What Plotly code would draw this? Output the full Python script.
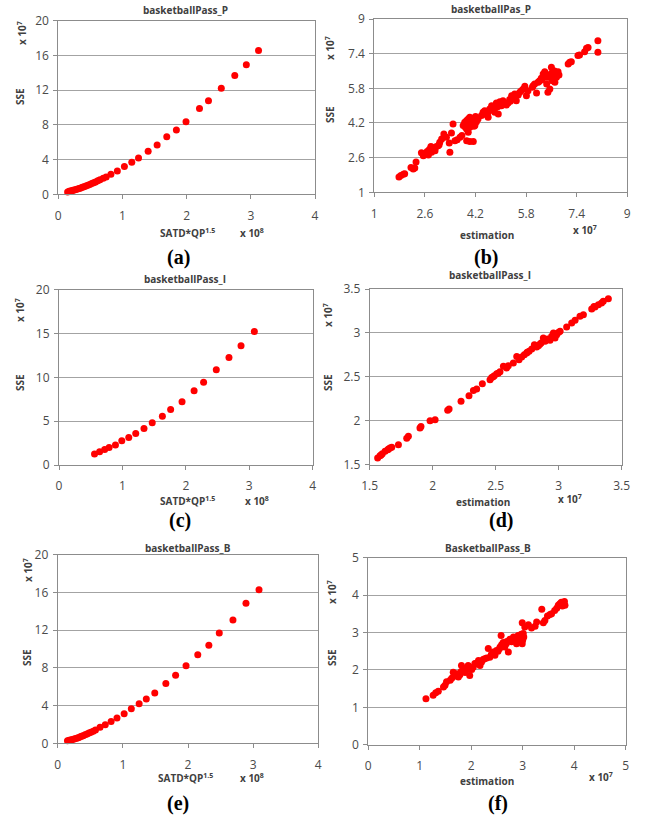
import plotly.graph_objects as go

W, H = 649, 818

# ---------------- data (x in units of the axis multiplier, y in 1e7) ----------------
a_x = [0.145, 0.17, 0.19, 0.21, 0.23, 0.25, 0.275, 0.30, 0.325, 0.35, 0.375, 0.40, 0.43, 0.46, 0.49,
       0.52, 0.55, 0.58, 0.615, 0.65, 0.70, 0.746, 0.82, 0.92, 1.03, 1.145, 1.25, 1.40, 1.54, 1.69,
       1.84, 1.99, 2.20, 2.34, 2.54, 2.75, 2.93, 3.12]
a_y = [0.27, 0.35, 0.38, 0.42, 0.46, 0.50, 0.56, 0.62, 0.67, 0.73, 0.80, 0.88, 0.96, 1.04, 1.13,
       1.23, 1.32, 1.42, 1.55, 1.69, 1.85, 2.0, 2.31, 2.69, 3.19, 3.69, 4.19, 4.96, 5.69, 6.62,
       7.42, 8.35, 9.88, 10.77, 12.23, 13.69, 14.92, 16.58]

b_x = [1.78, 1.84, 1.92, 1.96, 2.16, 2.23, 2.28, 2.32, 2.49, 2.55, 2.60, 2.67, 2.74, 2.79, 2.84, 2.92,
       2.81, 2.71, 3.02, 3.07, 3.13, 3.20, 3.28, 3.37, 3.39, 3.44, 3.49, 3.55, 3.62, 3.71, 3.77, 3.81,
       3.86, 3.92, 3.97, 4.02, 3.92, 3.97, 4.02, 4.07, 4.13, 4.18, 4.02, 4.13, 3.92, 4.23, 4.28, 4.39,
       4.44, 4.49, 4.55, 4.60, 4.65, 4.71, 4.76, 4.81, 4.86, 4.92, 4.97, 5.02, 5.07, 5.18, 5.23, 5.28,
       5.34, 5.39, 5.44, 5.49, 5.55, 5.60, 5.65, 5.71, 5.76, 5.81, 5.86, 6.02, 6.07, 6.13, 6.18, 6.23,
       6.28, 6.34, 6.39, 6.44, 6.49, 6.55, 6.60, 6.63, 6.65, 6.71, 6.76, 6.81, 6.84, 7.13, 7.18, 7.23,
       7.44, 7.49, 7.65, 7.71, 7.76, 8.07, 8.07,
       3.95, 4.05, 4.00, 3.88, 4.10, 4.15, 3.85, 4.20, 2.65, 2.90, 2.95, 3.05,
       6.30, 6.50, 6.60, 6.70, 6.20, 6.00, 6.45, 6.55, 4.60, 4.70, 4.90, 5.10, 5.30, 4.50]
b_y = [1.71, 1.77, 1.83, 1.86, 2.14, 2.08, 2.12, 2.40, 2.82, 2.69, 2.78, 2.88, 2.97, 3.12, 3.03, 2.92,
       2.85, 2.72, 3.15, 3.31, 3.46, 3.69, 3.54, 3.28, 2.85, 3.74, 4.15, 3.38, 3.43, 3.54, 3.62, 4.08,
       4.23, 4.31, 4.38, 4.46, 3.92, 3.77, 4.00, 4.15, 4.23, 4.08, 3.34, 3.34, 3.38, 4.26, 4.38, 4.54,
       4.69, 4.77, 4.62, 4.46, 4.85, 5.00, 4.88, 4.69, 5.12, 4.62, 5.18, 5.00, 5.23, 5.03, 5.12, 5.28,
       5.46, 5.34, 5.54, 5.23, 5.49, 5.62, 5.69, 5.77, 5.89, 5.46, 5.69, 5.92, 6.00, 5.58, 6.08, 6.15,
       6.26, 6.46, 6.57, 6.31, 5.62, 5.77, 6.77, 6.15, 6.38, 6.08, 6.31, 6.57, 6.42, 6.92, 7.00, 7.03,
       7.31, 7.34, 7.49, 7.65, 7.69, 8.00, 7.46,
       4.10, 4.30, 4.20, 4.00, 4.40, 4.05, 4.15, 4.50, 2.75, 3.00, 3.10, 3.20,
       6.20, 6.40, 6.50, 6.60, 6.10, 5.85, 6.00, 6.30, 4.70, 4.80, 4.95, 5.10, 5.20, 4.60]

c_x = [0.56, 0.64, 0.72, 0.79, 0.89, 0.99, 1.10, 1.21, 1.34, 1.47, 1.63, 1.76, 1.94, 2.13, 2.28,
       2.48, 2.68, 2.87, 3.08]
c_y = [1.25, 1.52, 1.78, 2.00, 2.27, 2.77, 3.14, 3.60, 4.17, 4.81, 5.57, 6.33, 7.23, 8.48, 9.43,
       10.87, 12.27, 13.60, 15.23]

d_x = [1.563, 1.582, 1.600, 1.622, 1.643, 1.661, 1.675, 1.728, 1.794, 1.807, 1.899, 1.907, 1.979,
       2.019, 2.119, 2.130, 2.225, 2.288, 2.323, 2.349, 2.394, 2.455, 2.468, 2.489, 2.508, 2.534,
       2.561, 2.587, 2.600, 2.640, 2.667, 2.685, 2.706, 2.727, 2.746, 2.765, 2.786, 2.807, 2.825,
       2.839, 2.860, 2.878, 2.892, 2.913, 2.931, 2.944, 2.958, 2.971, 2.984, 3.000, 3.011, 3.063,
       3.103, 3.130, 3.169, 3.196, 3.262, 3.288, 3.315, 3.354, 3.394,
       2.48, 2.52, 2.75, 2.85, 2.90, 2.97, 3.28, 3.34, 1.59, 1.65]
d_y = [1.576, 1.602, 1.625, 1.652, 1.671, 1.690, 1.700, 1.728, 1.800, 1.823, 1.917, 1.936, 2.000,
       2.012, 2.119, 2.134, 2.221, 2.286, 2.346, 2.361, 2.422, 2.468, 2.494, 2.513, 2.536, 2.559,
       2.620, 2.600, 2.627, 2.657, 2.733, 2.695, 2.726, 2.752, 2.771, 2.790, 2.817, 2.866, 2.840,
       2.855, 2.885, 2.942, 2.904, 2.931, 2.916, 2.961, 2.999, 2.942, 2.980, 3.007, 3.018, 3.067,
       3.113, 3.143, 3.189, 3.208, 3.272, 3.295, 3.322, 3.360, 3.390,
       2.50, 2.54, 2.78, 2.87, 2.92, 2.99, 3.30, 3.34, 1.61, 1.68]

e_x = [0.15, 0.17, 0.19, 0.215, 0.24, 0.265, 0.29, 0.315, 0.34, 0.365, 0.39, 0.42, 0.45, 0.48, 0.51,
       0.545, 0.58, 0.65, 0.73, 0.82, 0.91, 1.02, 1.13, 1.25, 1.36, 1.49, 1.66, 1.81, 1.97, 2.15,
       2.32, 2.48, 2.69, 2.89, 3.09]
e_y = [0.28, 0.31, 0.35, 0.38, 0.42, 0.47, 0.53, 0.60, 0.67, 0.74, 0.81, 0.90, 0.99, 1.08, 1.17,
       1.29, 1.41, 1.70, 1.98, 2.30, 2.69, 3.14, 3.67, 4.20, 4.70, 5.34, 6.33, 7.21, 8.23, 9.40,
       10.39, 11.70, 13.07, 14.84, 16.29]

f_x = [1.12, 1.26, 1.31, 1.36, 1.46, 1.49, 1.52, 1.59, 1.62, 1.65, 1.68, 1.71, 1.75, 1.78, 1.81,
       1.84, 1.88, 1.91, 1.94, 1.97, 2.01, 2.04, 2.07, 2.14, 2.17, 2.20, 2.23, 2.30, 2.33, 2.36,
       2.39, 2.43, 2.46, 2.49, 2.52, 2.56, 2.58, 2.59, 2.62, 2.65, 2.69, 2.72, 2.75, 2.78, 2.82,
       2.85, 2.88, 2.91, 2.95, 2.98, 2.99, 3.01, 2.99, 3.04, 3.11, 3.17, 3.24, 3.27, 3.37, 3.40,
       3.43, 3.48, 3.53, 3.56, 3.62, 3.66, 3.69, 3.72, 3.75, 3.79, 3.81, 3.82, 3.77,
       1.72, 1.80, 1.86, 1.95, 2.10, 2.26, 2.42, 2.55, 2.68, 2.80, 2.92, 2.97, 3.00, 3.02, 3.75, 3.80]
f_y = [1.23, 1.32, 1.39, 1.43, 1.54, 1.59, 1.68, 1.72, 1.78, 1.94, 1.84, 1.90, 1.81, 1.87, 2.12,
       1.99, 1.93, 2.05, 2.12, 1.85, 2.01, 2.08, 2.17, 2.25, 2.12, 2.21, 2.28, 2.32, 2.57, 2.34,
       2.41, 2.48, 2.39, 2.52, 2.50, 2.61, 2.92, 2.67, 2.73, 2.61, 2.76, 2.48, 2.82, 2.75, 2.88,
       2.82, 2.70, 2.92, 2.79, 2.85, 2.70, 2.97, 3.26, 3.15, 3.21, 3.12, 3.17, 3.28, 3.62, 3.26,
       3.32, 3.44, 3.48, 3.50, 3.59, 3.65, 3.73, 3.77, 3.81, 3.80, 3.83, 3.73, 3.71,
       1.86, 1.95, 1.96, 2.02, 2.17, 2.30, 2.43, 2.57, 2.70, 2.80, 2.88, 2.95, 2.80, 2.88, 3.78, 3.76]

# ---------------- panel setup ----------------
panels = [
    # key, x, y, box(l, r, t, b) px, xrange, xtickvals, yrange, ytickvals
    ("a", a_x, a_y, (58.3, 315, 20.7, 194.3), [0, 4], [0, 1, 2, 3, 4], [0, 20], [0, 4, 8, 12, 16, 20]),
    ("b", b_x, b_y, (374.3, 627.3, 19, 192.3), [1, 9], [1, 2.6, 4.2, 5.8, 7.4, 9], [1, 9], [1, 2.6, 4.2, 5.8, 7.4, 9]),
    ("c", c_x, c_y, (59, 312.7, 289.7, 465), [0, 4], [0, 1, 2, 3, 4], [0, 20], [0, 5, 10, 15, 20]),
    ("d", d_x, d_y, (369.7, 621.7, 289, 464.7), [1.5, 3.5], [1.5, 2, 2.5, 3, 3.5], [1.5, 3.5], [1.5, 2, 2.5, 3, 3.5]),
    ("e", e_x, e_y, (57.7, 318.3, 554.7, 743.3), [0, 4], [0, 1, 2, 3, 4], [0, 20], [0, 4, 8, 12, 16, 20]),
    ("f", f_x, f_y, (368.3, 625.7, 557.7, 744.7), [0, 5], [0, 1, 2, 3, 4, 5], [0, 5], [0, 1, 2, 3, 4, 5]),
]

LINE = "#8c8c8c"
GRID = "#a3a3a3"
TICKFONT = dict(family="Open Sans", size=12, color="#4a4a4a")

fig = go.Figure()
layout = {}
for i, (key, xs, ys, box, xr, xt, yr, yt) in enumerate(panels):
    n = "" if i == 0 else str(i + 1)
    l, r, t, b = box
    fig.add_trace(go.Scatter(
        x=xs, y=ys, mode="markers", xaxis="x" + n, yaxis="y" + n,
        marker=dict(color="#ff0000", size=7, line=dict(width=0)),
        cliponaxis=False, hoverinfo="skip",
    ))
    layout["xaxis" + n] = dict(
        domain=[l / W, r / W], range=xr, tickvals=xt, anchor="y" + n,
        showline=True, linecolor=LINE, linewidth=1, mirror=True, automargin=False,
        ticks="outside", ticklen=4, tickcolor=LINE, showgrid=False, zeroline=False,
        tickfont=TICKFONT, ticklabelstandoff=6,
    )
    layout["yaxis" + n] = dict(
        domain=[1 - b / H, 1 - t / H], range=yr, tickvals=yt, anchor="x" + n,
        showline=True, linecolor=LINE, linewidth=1, mirror=True, automargin=False,
        ticks="outside", ticklen=4, tickcolor=LINE, showgrid=True, gridcolor=GRID,
        gridwidth=1, zeroline=False, tickfont=TICKFONT, ticklabelstandoff=2,
    )

fig.update_layout(**layout)


def P(px, py):
    return px / W, 1 - py / H


ann = []


def text(px, py, s, size=10, angle=0, family="Open Sans", color="#404040"):
    x, y = P(px, py)
    ann.append(dict(x=x, y=y, xref="paper", yref="paper", text=s, showarrow=False,
                    textangle=angle, xanchor="center", yanchor="middle",
                    font=dict(family=family, size=size, color=color)))


# chart titles
text(186, 10, "<b>basketballPass_P</b>")
text(491, 9, "<b>basketballPas_P</b>")
text(185, 279, "<b>basketballPass_I</b>")
text(490, 275, "<b>basketballPass_I</b>")
text(188, 548, "<b>basketballPass_B</b>")
text(488, 548, "<b>BasketballPass_B</b>")

# x-axis titles and multipliers
sat = "<b>SATD*QP<sup>1.5</sup></b>"
text(187, 233, sat)
text(252, 233, "<b>x 10<sup>8</sup></b>")
text(487, 235, "<b>estimation</b>")
text(585, 230, "<b>x 10<sup>7</sup></b>")
text(187, 501, sat)
text(257, 501, "<b>x 10<sup>8</sup></b>")
text(483, 502, "<b>estimation</b>")
text(570, 499, "<b>x 10<sup>7</sup></b>")
text(185, 778, sat)
text(252, 778, "<b>x 10<sup>8</sup></b>")
text(487, 781, "<b>estimation</b>")
text(601, 777, "<b>x 10<sup>7</sup></b>")

# y-axis titles and multipliers
for (sx, sy, mx, my) in [(20, 97, 22, 33), (330, 115, 330, 48), (20, 383, 20, 310),
                         (328, 383, 328, 315), (27, 658, 28, 570), (332, 658, 332, 592)]:
    text(sx, sy, "<b>SSE</b>", angle=-90)
    text(mx, my, "<b>x 10<sup>7</sup></b>", angle=-90)

# panel letters
for (px, py, s) in [(178, 258, "(a)"), (486, 257, "(b)"), (180, 520, "(c)"),
                    (501, 520, "(d)"), (178, 803, "(e)"), (498, 803, "(f)")]:
    text(px, py, "<b>" + s + "</b>", size=20, family="Liberation Serif", color="#000000")

fig.update_layout(
    width=W, height=H, margin=dict(l=0, r=0, t=0, b=0, pad=0, autoexpand=False),
    paper_bgcolor="white", plot_bgcolor="white", showlegend=False,
    annotations=ann,
)

fig.write_html(
    "out.html",
    config={"displayModeBar": False},
    post_script="document.body.style.margin='0';document.body.style.padding='0';"
                "document.documentElement.style.overflow='hidden';",
)
